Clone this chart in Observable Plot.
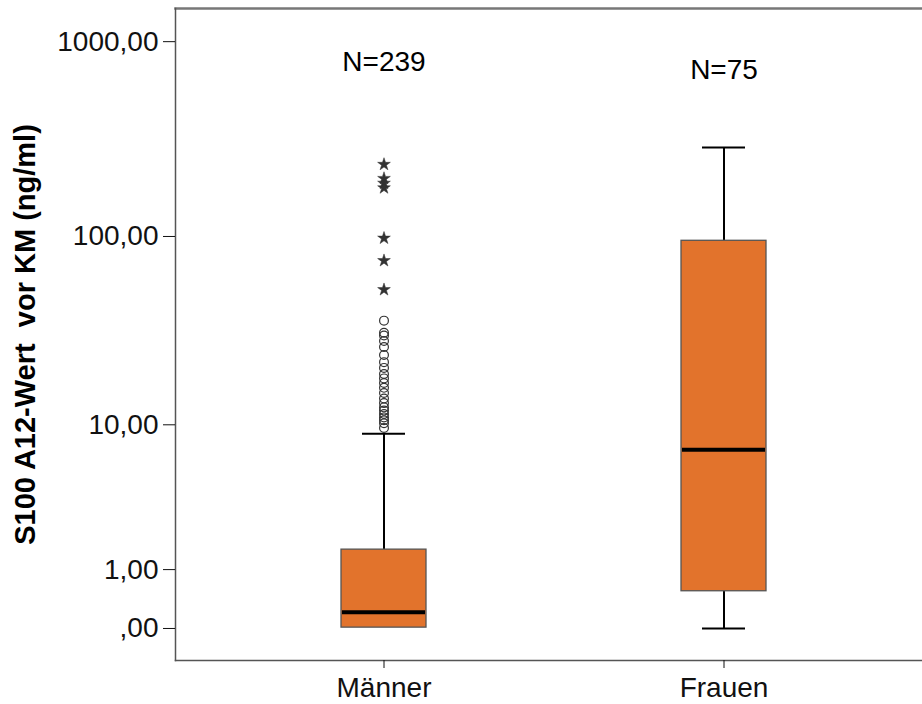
<!DOCTYPE html>
<html><head><meta charset="utf-8">
<script src="https://cdn.jsdelivr.net/npm/d3@7"></script>
<script src="https://cdn.jsdelivr.net/npm/@observablehq/plot@0.6"></script>
<style>body{margin:0;background:#fff}svg text{white-space:pre}</style>
</head><body><div id="chart"></div>
<script>
const groups = ["Männer", "Frauen"];
const nLabels = ["N=239", "N=75"];
const q1 = [0.01, 0.55];
const median = [0.21, 7.2];
const q3 = [1.53, 95];
const whiskerLow = [null, 0];
const whiskerHigh = [8.9, 287];
const outliersMild = [36.5, 31.5, 30.5, 28.5, 26.5, 24, 22, 20.5, 19, 18, 17, 16, 15, 14, 13.2, 12.5, 12, 11.5, 11, 10.6, 10.2, 9.6];
const outliersExtreme = [235, 199, 188, 178, 98, 75, 53];
const yTicks = [0, 1, 10, 100, 1000];
const yTickLabels = [",00", "1,00", "10,00", "100,00", "1000,00"];
const yLabel = "S100 A12-Wert  vor KM (ng/ml)";

const boxes = groups.map((g, i) => ({g, q1: q1[i], med: median[i], q3: q3[i], lo: whiskerLow[i], hi: whiskerHigh[i], n: nLabels[i]}));
const mild = outliersMild.map(v => ({g: groups[0], v}));
const extreme = outliersExtreme.map(v => ({g: groups[0], v}));
const lows = boxes.filter(d => d.lo != null);
const fmt = d => yTickLabels[yTicks.indexOf(d)];

const chart = Plot.plot({
  width: 922, height: 704,
  marginLeft: 175, marginTop: 8, marginBottom: 44, marginRight: 0,
  style: {fontFamily: "'Liberation Sans', Arial, sans-serif", background: "#fff", color: "#000"},
  x: {domain: groups, paddingInner: 0.75, paddingOuter: 0.4735, align: 0.5155, label: null},
  y: {type: "symlog", constant: 1, domain: [-0.458, 1478], label: null},
  marks: [
    Plot.frame({anchor: "top", stroke: "#777", strokeWidth: 2.5}),
    Plot.frame({anchor: "left", stroke: "#555", strokeWidth: 1.5}),
    Plot.frame({anchor: "bottom", stroke: "#555", strokeWidth: 1.5}),
    Plot.axisY({ticks: yTicks, tickFormat: fmt, tickSize: 12, tickPadding: 5, fontSize: 28, color: "#111", label: null}),
    Plot.axisX({tickSize: 8, tickPadding: 9, fontSize: 28, color: "#111", label: null}),
    Plot.ruleX(boxes, {x: "g", y1: "q3", y2: "hi", stroke: "#000", strokeWidth: 2}),
    Plot.ruleX(lows, {x: "g", y1: "lo", y2: "q1", stroke: "#000", strokeWidth: 2}),
    Plot.tickY(boxes, {x: "g", y: "hi", insetLeft: 21, insetRight: 21, stroke: "#000", strokeWidth: 2}),
    Plot.tickY(lows, {x: "g", y: "lo", insetLeft: 21, insetRight: 21, stroke: "#000", strokeWidth: 2}),
    Plot.barY(boxes, {x: "g", y1: "q1", y2: "q3", fill: "#e2732c", stroke: "#555", strokeWidth: 1.3}),
    Plot.tickY(boxes, {x: "g", y: "med", stroke: "#000", strokeWidth: 4, insetLeft: 1, insetRight: 1}),
    Plot.dot(mild, {x: "g", y: "v", r: 4.4, stroke: "#333", strokeWidth: 1.2, fill: "none"}),
    Plot.dot(extreme, {x: "g", y: "v", symbol: "star", r: 4, fill: "#333", stroke: "#333", strokeWidth: 0.5}),
    Plot.text([boxes[0]], {x: "g", text: "n", frameAnchor: "top", lineAnchor: "middle", dy: 54, fontSize: 28, fill: "#000"}),
    Plot.text([boxes[1]], {x: "g", text: "n", frameAnchor: "top", lineAnchor: "middle", dy: 62, fontSize: 28, fill: "#000"}),
    Plot.text([yLabel], {frameAnchor: "left", textAnchor: "middle", lineAnchor: "middle", dx: -150, rotate: -90, fontWeight: "bold", fontSize: 29, fill: "#000"})
  ]
});
document.getElementById("chart").appendChild(chart);
</script>
</body></html>
